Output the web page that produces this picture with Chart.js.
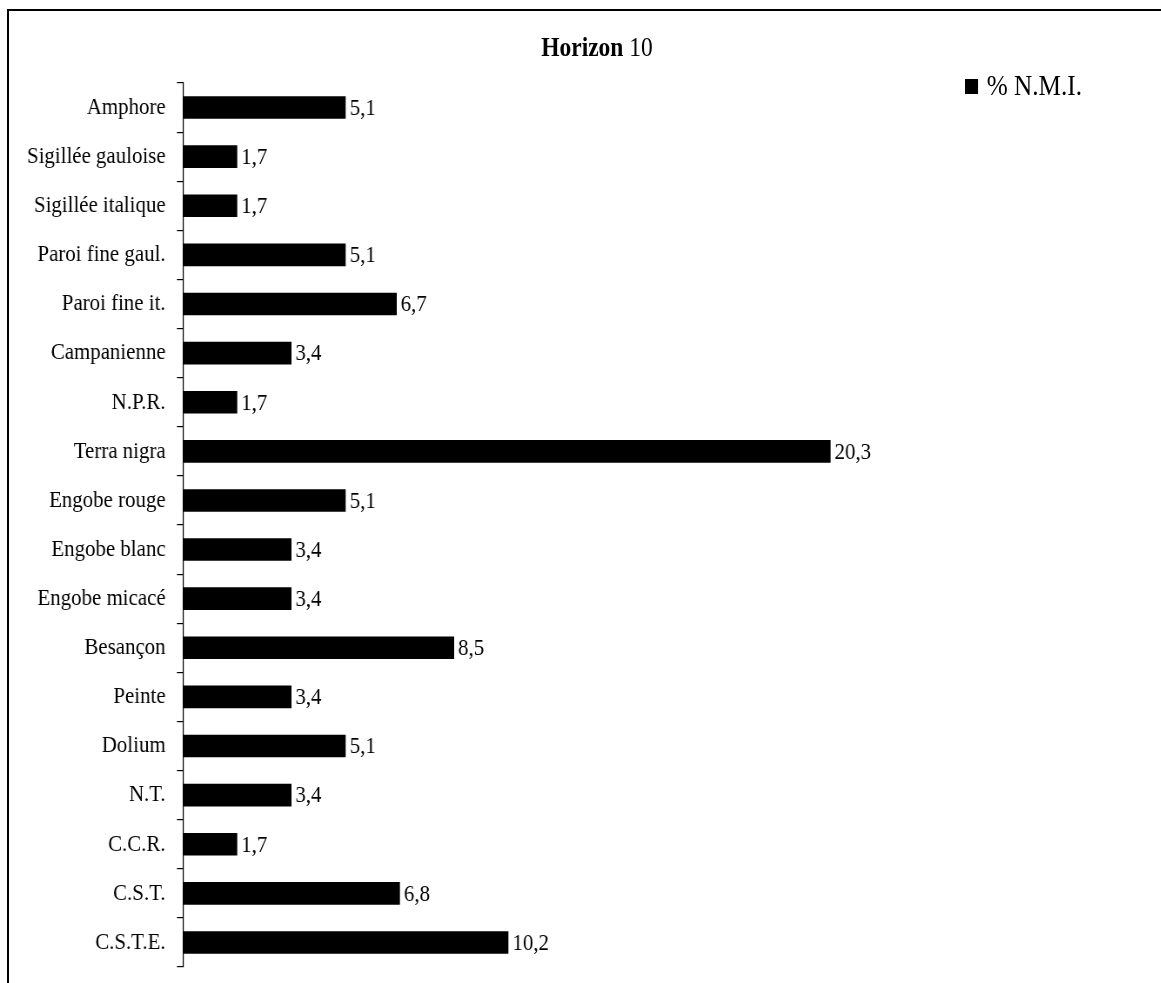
<!DOCTYPE html>
<html>
<head>
<meta charset="utf-8">
<script src="https://cdn.jsdelivr.net/npm/chart.js@4"></script>
<style>
  html, body { margin: 0; padding: 0; background: #fff; overflow: hidden; }
  body { width: 1161px; height: 983px; position: relative; font-family: "Liberation Serif", "Times New Roman", serif; }
  .frame { position: absolute; left: 7px; top: 9px; width: 1200px; height: 1000px; border: 2px solid #000; }
  /* The source is a horizontally squeezed Excel export: squeeze the canvas the same way. */
  #chart { position: absolute; left: 0; top: 0; transform: scaleX(0.87); transform-origin: 0 0; }
  .title { position: absolute; left: 447px; width: 300px; top: 30px; text-align: center; font-size: 27px; line-height: 34px; color: #000; transform: scaleX(0.87); }
  .legend { position: absolute; left: 965px; top: 69px; font-size: 29px; line-height: 32px; color: #000; white-space: nowrap; transform: scaleX(0.87); transform-origin: 0 0; }
  .legend__swatch { display: inline-block; width: 15px; height: 15px; background: #000; margin-right: 10px; vertical-align: 1px; }
</style>
</head>
<body>
<div class="frame"></div>
<canvas id="chart" height="983"></canvas>
<div class="title"><b>Horizon</b> 10</div>
<div class="legend"><span class="legend__swatch"></span>% N.M.I.</div>
<script>
(function () {
  const categories = [
    "Amphore", "Sigillée gauloise", "Sigillée italique", "Paroi fine gaul.",
    "Paroi fine it.", "Campanienne", "N.P.R.", "Terra nigra", "Engobe rouge",
    "Engobe blanc", "Engobe micacé", "Besançon", "Peinte", "Dolium",
    "N.T.", "C.C.R.", "C.S.T.", "C.S.T.E."
  ];
  const nmiPercent = [
    5.1, 1.7, 1.7, 5.1,
    6.7, 3.4, 1.7, 20.3, 5.1,
    3.4, 3.4, 8.5, 3.4, 5.1,
    3.4, 1.7, 6.8, 10.2
  ];

  const FONT = "'Liberation Serif', 'Times New Roman', serif";
  const SX = 0.87; // must match the scaleX() on #chart
  const canvas = document.getElementById("chart");
  canvas.width = Math.round(1161 / SX);

  function frNumber(v) {
    return v.toFixed(1).replace(".", ",");
  }

  // Value labels to the right of each bar, as in the original Excel chart.
  const barValues = {
    id: "barValues",
    afterDatasetsDraw: function (chart) {
      const ctx = chart.ctx;
      const meta = chart.getDatasetMeta(0);
      ctx.save();
      ctx.fillStyle = "#000";
      ctx.font = "24px " + FONT;
      ctx.textAlign = "left";
      ctx.textBaseline = "middle";
      meta.data.forEach(function (bar, i) {
        ctx.fillText(frNumber(nmiPercent[i]), bar.x + 4 / SX, bar.y + 1);
      });
      ctx.restore();
    },
  };

  new Chart(canvas, {
    type: "bar",
    data: {
      labels: categories,
      datasets: [
        {
          label: "% N.M.I.",
          data: nmiPercent,
          backgroundColor: "#000",
          borderWidth: 0,
          barPercentage: 0.46,
          categoryPercentage: 1,
        },
      ],
    },
    options: {
      indexAxis: "y",
      responsive: false,
      animation: false,
      layout: { padding: { top: 83, bottom: 16, left: 0, right: Math.round(276 / SX) } },
      plugins: {
        legend: { display: false },
        title: { display: false },
        tooltip: { enabled: false },
      },
      scales: {
        x: { display: false, min: 0, max: 22 },
        y: {
          grid: {
            display: true,
            drawOnChartArea: false,
            drawTicks: true,
            tickLength: 7,
            lineWidth: 1.2,
            color: "#000",
            offset: true,
          },
          border: { display: true, color: "#000", width: 1.2 },
          ticks: {
            color: "#000",
            padding: 13,
            font: { family: FONT, size: 24 },
          },
          afterFit: function (scale) {
            scale.width = 183 / SX;
            // labels sit between offset gridlines, no need for the extra end padding
            scale.paddingTop = 0;
            scale.paddingBottom = 0;
          },
        },
      },
    },
    plugins: [barValues],
  });
})();
</script>
</body>
</html>
